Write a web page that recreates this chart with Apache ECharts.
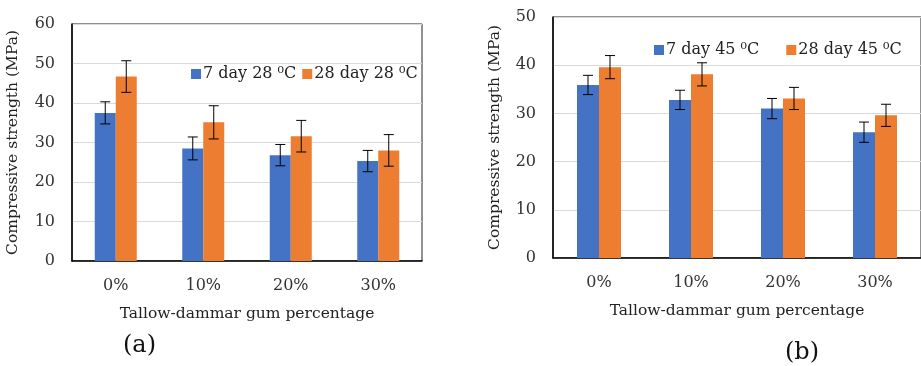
<!DOCTYPE html>
<html>
<head>
<meta charset="utf-8">
<script src="https://cdn.jsdelivr.net/npm/echarts@6/dist/echarts.min.js"></script>
<style>
  html, body { margin: 0; padding: 0; background: #fff; }
  #chart { width: 921px; height: 366px; }
</style>
</head>
<body>
<div id="chart"></div>
<script>
var categories = ['0%', '10%', '20%', '30%'];

// (a) cured at 28 °C
var a7 = [37.5, 28.5, 26.8, 25.3];
var a7Err = [2.8, 2.9, 2.7, 2.7];
var a28 = [46.7, 35.1, 31.6, 28.0];
var a28Err = [4.0, 4.2, 4.0, 4.0];

// (b) cured at 45 °C
var b7 = [35.9, 32.8, 31.0, 26.1];
var b7Err = [2.0, 2.0, 2.1, 2.1];
var b28 = [39.6, 38.1, 33.1, 29.6];
var b28Err = [2.4, 2.4, 2.3, 2.3];

var FONT = 'DejaVu Serif';
var BLUE = '#4472C4';
var ORANGE = '#ED7D31';

function errData(vals, errs) {
  return vals.map(function (v, i) { return [i, v - errs[i], v + errs[i]]; });
}

// draws the error bar with caps, shifted onto the bar it belongs to
function errSeries(name, idx, vals, errs, side, barW) {
  return {
    name: name,
    type: 'custom',
    xAxisIndex: idx,
    yAxisIndex: idx,
    z: 10,
    silent: true,
    renderItem: function (params, api) {
      var lo = api.coord([api.value(0), api.value(1)]);
      var hi = api.coord([api.value(0), api.value(2)]);
      var x = lo[0] + side * barW / 2;
      var cap = 5;
      var style = { stroke: '#000', lineWidth: 1 };
      return {
        type: 'group',
        children: [
          { type: 'line', shape: { x1: x, y1: lo[1], x2: x, y2: hi[1] }, style: style },
          { type: 'line', shape: { x1: x - cap, y1: hi[1], x2: x + cap, y2: hi[1] }, style: style },
          { type: 'line', shape: { x1: x - cap, y1: lo[1], x2: x + cap, y2: lo[1] }, style: style }
        ]
      };
    },
    encode: { x: 0, y: [1, 2] },
    data: errData(vals, errs)
  };
}

function xAxis(idx, margin) {
  return {
    type: 'category',
    gridIndex: idx,
    data: categories,
    name: 'Tallow-dammar gum percentage',
    nameLocation: 'middle',
    nameGap: 45,
    nameTextStyle: { fontFamily: FONT, fontSize: 15.5, color: '#222' },
    axisLine: { lineStyle: { color: '#000', width: 1.5 } },
    axisTick: { show: false },
    axisLabel: { margin: margin, fontFamily: FONT, fontSize: 16, color: '#333' }
  };
}

function yAxis(idx, max, gap) {
  return {
    type: 'value',
    gridIndex: idx,
    min: 0,
    max: max,
    interval: 10,
    name: 'Compressive strength (MPa)',
    nameLocation: 'middle',
    nameRotate: 90,
    nameGap: gap,
    nameTextStyle: { fontFamily: FONT, fontSize: 15.5, color: '#222' },
    axisLine: { show: true, lineStyle: { color: '#000', width: 1.5 } },
    axisTick: { show: false },
    axisLabel: { margin: 17, fontFamily: FONT, fontSize: 16, color: '#333' },
    splitLine: { lineStyle: { color: '#d9d9d9' } }
  };
}

var chart = echarts.init(document.getElementById('chart'));
chart.setOption({
  animation: false,
  backgroundColor: '#fff',
  grid: [
    { left: 72, top: 24, width: 350, height: 237, show: true, borderColor: '#222', borderWidth: 1 },
    { left: 553, top: 17, width: 384, height: 241, show: true, borderColor: '#222', borderWidth: 1 }
  ],
  legend: [{
    data: ['7 day 28 \u2070C', '28 day 28 \u2070C'],
    left: 186, top: 61,
    icon: 'rect', itemWidth: 10, itemHeight: 10, itemGap: 6,
    textStyle: { fontFamily: FONT, fontSize: 16, color: '#222', padding: [0, 0, 0, -3] }
  }, {
    data: ['7 day 45 \u2070C', '28 day 45 \u2070C'],
    left: 649, top: 37,
    icon: 'rect', itemWidth: 10, itemHeight: 10, itemGap: 27,
    textStyle: { fontFamily: FONT, fontSize: 16, color: '#222', padding: [0, 0, 0, -3] }
  }],
  xAxis: [xAxis(0, 17), xAxis(1, 17)],
  yAxis: [yAxis(0, 60, 51), yAxis(1, 50, 50)],
  graphic: [
    { type: 'text', left: 123, top: 334, style: { text: '(a)', font: '24px ' + FONT, fill: '#111' } },
    { type: 'text', left: 785, top: 341, style: { text: '(b)', font: '24px ' + FONT, fill: '#111' } }
  ],
  series: [
    { name: '7 day 28 \u2070C', type: 'bar', xAxisIndex: 0, yAxisIndex: 0, barWidth: 21, barGap: '0%',
      itemStyle: { color: BLUE }, data: a7 },
    { name: '28 day 28 \u2070C', type: 'bar', xAxisIndex: 0, yAxisIndex: 0, barWidth: 21, barGap: '0%',
      itemStyle: { color: ORANGE }, data: a28 },
    errSeries('a7err', 0, a7, a7Err, -1, 21),
    errSeries('a28err', 0, a28, a28Err, 1, 21),
    { name: '7 day 45 \u2070C', type: 'bar', xAxisIndex: 1, yAxisIndex: 1, barWidth: 22, barGap: '0%',
      itemStyle: { color: BLUE }, data: b7 },
    { name: '28 day 45 \u2070C', type: 'bar', xAxisIndex: 1, yAxisIndex: 1, barWidth: 22, barGap: '0%',
      itemStyle: { color: ORANGE }, data: b28 },
    errSeries('b7err', 1, b7, b7Err, -1, 22),
    errSeries('b28err', 1, b28, b28Err, 1, 22)
  ]
});
</script>
</body>
</html>
